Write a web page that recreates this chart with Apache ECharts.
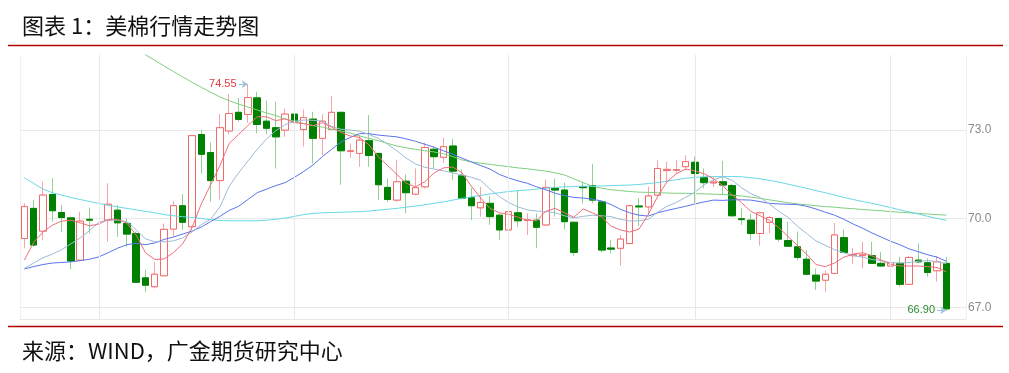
<!DOCTYPE html>
<html><head><meta charset="utf-8">
<script src="https://cdn.jsdelivr.net/npm/echarts@6/dist/echarts.min.js"></script>
<style>html,body{margin:0;padding:0;background:#fff}#c{width:1009px;height:373px}</style>
</head><body><div id="c"></div>
<script>
// ---- data ----
const categories = Array.from({length: 100}, (_, i) => 'T' + (i + 1));
const monthStarts = [8, 29, 52, 72, 93];
const yTickLabels = [67.0, 70.0, 73.0];

const open = [
69.33,70.35,69.58,70.82,70.21,70.03,68.60,69.98,null,69.95,
70.29,69.84,69.50,68.00,67.70,68.07,69.65,70.44,69.73,72.85,
72.24,71.29,72.97,73.60,73.53,74.09,73.30,73.08,73.00,73.54,
73.02,73.37,72.72,73.02,73.60,72.28,72.21,72.64,72.21,71.06,
70.63,71.27,70.83,71.08,72.35,72.08,72.46,71.45,70.71,70.37,
70.52,70.12,69.62,70.20,69.94,69.95,69.79,71.03,70.97,69.88,
71.08,71.12,70.57,69.01,69.00,69.16,70.43,70.40,70.80,71.63,
71.64,71.76,71.91,71.39,71.21,71.25,71.12,70.00,69.95,69.50,
69.88,70.01,69.26,69.05,68.63,68.09,67.92,68.15,69.36,68.75,
68.75,68.75,68.49,68.40,68.49,67.78,68.60,68.51,68.24,68.49];
const close = [
70.41,69.11,70.80,70.27,70.04,68.57,69.92,69.95,null,70.49,
69.86,69.48,67.85,67.75,68.12,69.64,70.44,69.88,72.81,72.18,
71.29,73.08,73.56,73.36,74.10,73.19,73.06,72.77,73.54,73.28,
73.42,72.72,73.30,73.60,72.30,72.30,72.66,72.14,71.15,70.65,
71.25,70.88,71.05,72.41,72.10,72.44,71.61,70.69,70.44,70.55,
70.07,69.62,70.24,69.93,69.96,69.71,71.06,70.97,69.90,68.86,
71.05,70.63,68.94,68.97,69.31,70.44,70.40,70.77,71.70,71.67,
71.66,71.93,71.53,71.22,71.24,71.14,70.10,69.97,69.50,70.20,
70.04,69.31,69.07,68.69,68.12,67.89,68.12,69.45,68.86,68.79,
68.78,68.49,68.40,68.51,67.78,68.69,68.54,68.18,68.54,66.95];
const low = [
69.00,69.05,69.28,69.90,69.56,68.29,68.58,69.50,null,69.22,
69.39,69.05,67.83,67.51,67.64,68.06,69.39,69.62,69.62,71.53,
70.57,70.65,72.85,73.28,73.25,72.89,72.85,71.70,72.77,72.83,
72.44,71.87,72.15,73.00,71.15,72.06,71.76,71.76,70.63,70.57,
70.57,70.18,70.80,71.03,71.70,71.89,71.31,70.65,69.95,70.07,
69.79,69.28,69.39,69.73,69.45,69.00,69.76,70.07,69.64,68.74,
70.52,70.52,68.86,68.83,68.41,69.14,69.75,70.12,70.78,71.20,
71.53,71.65,70.52,71.03,71.08,70.80,70.07,69.79,69.28,69.09,
69.50,69.22,69.05,68.60,68.09,67.59,67.53,68.13,68.83,68.47,
68.32,68.47,68.38,68.35,67.70,67.75,68.49,68.04,67.87,66.90];
const high = [
70.52,70.63,71.25,71.37,70.46,70.07,70.24,70.38,null,71.20,
70.46,70.01,69.56,68.28,68.54,69.84,70.60,70.83,72.83,73.02,
72.58,73.54,74.22,74.09,74.55,74.30,74.00,73.96,73.73,74.00,
73.70,73.62,73.54,74.15,73.62,72.55,72.83,73.51,72.23,71.36,
71.98,71.50,71.70,72.57,72.46,72.74,72.70,71.67,71.05,71.08,
70.77,70.15,71.36,70.97,70.18,70.18,71.33,71.36,71.22,69.90,
71.25,71.85,70.60,69.28,69.45,70.48,70.70,71.08,71.98,71.93,
71.98,72.15,72.10,71.70,71.42,71.96,71.19,70.35,70.18,70.24,
70.10,70.03,69.90,69.56,68.94,68.32,68.26,69.86,69.64,69.00,
69.22,69.22,68.88,69.45,68.71,68.74,69.16,68.66,68.74,68.71];

const ma5 = [
68.60,69.20,69.55,69.78,69.92,69.95,69.86,69.76,69.82,69.98,
69.98,69.85,69.45,68.85,68.62,68.64,68.85,69.15,69.70,70.50,
71.15,71.80,72.55,72.85,73.15,73.45,73.45,73.32,73.38,73.25,
73.22,73.15,73.25,73.10,72.92,72.80,72.75,72.50,72.10,71.80,
71.50,71.20,71.08,71.25,71.55,71.72,71.75,71.55,71.10,70.70,
70.35,70.20,70.15,70.05,69.95,69.93,70.25,70.35,70.20,70.05,
70.33,70.20,70.05,69.75,69.62,69.55,69.65,70.15,70.75,71.25,
71.52,71.68,71.62,71.52,71.35,71.12,70.80,70.55,70.25,70.10,
69.95,69.70,69.40,69.10,68.80,68.45,68.38,68.50,68.70,68.80,
68.85,68.75,68.60,68.45,68.40,68.40,68.40,68.38,68.35,68.20];
const ma10 = [
68.32,68.50,68.68,68.80,68.95,69.15,69.35,69.60,69.88,69.95,
69.95,69.90,69.62,69.32,69.22,69.22,69.25,69.35,69.55,69.80,
69.98,70.40,71.10,71.55,71.95,72.35,72.70,72.98,73.18,73.30,
73.34,73.33,73.30,73.12,73.03,73.00,72.96,72.85,72.72,72.52,
72.30,72.05,71.85,71.74,71.68,71.62,71.55,71.48,71.40,71.30,
71.00,70.75,70.55,70.40,70.30,70.26,70.24,70.20,70.10,70.03,
70.08,70.12,70.10,70.07,69.98,69.92,69.93,69.98,70.22,70.42,
70.55,70.72,70.90,71.15,71.32,71.42,71.30,71.05,70.85,70.72,
70.50,70.25,70.05,69.75,69.50,69.25,69.10,68.95,68.85,68.75,
68.70,68.62,68.58,68.52,68.50,68.52,68.56,68.58,68.55,68.48];
const ma20 = [
68.30,68.38,68.45,68.50,68.52,68.54,68.58,68.63,68.71,68.85,
69.00,69.12,69.17,69.12,69.18,69.30,69.38,69.48,69.58,69.72,
69.90,70.08,70.28,70.42,70.65,70.88,71.00,71.12,71.22,71.40,
71.60,71.82,72.10,72.35,72.60,72.75,72.88,72.88,72.83,72.80,
72.77,72.70,72.62,72.52,72.42,72.30,72.18,72.05,71.92,71.80,
71.68,71.50,71.38,71.28,71.20,71.08,70.98,70.86,70.78,70.72,
70.70,70.66,70.60,70.48,70.32,70.20,70.12,70.09,70.20,70.28,
70.35,70.42,70.50,70.57,70.63,70.62,70.64,70.64,70.63,70.58,
70.52,70.50,70.49,70.48,70.42,70.33,70.22,70.12,69.98,69.82,
69.68,69.52,69.38,69.24,69.12,68.98,68.88,68.78,68.70,68.56];
const ma60 = [
71.38,71.20,71.00,70.88,70.80,70.72,70.65,70.58,70.52,70.45,
70.40,70.35,70.30,70.25,70.20,70.14,70.10,70.07,70.04,70.01,
69.97,69.94,69.93,69.93,69.93,69.93,69.95,69.98,70.02,70.08,
70.14,70.18,70.20,70.21,70.22,70.23,70.24,70.26,70.29,70.32,
70.35,70.39,70.43,70.47,70.52,70.57,70.63,70.69,70.74,70.79,
70.84,70.88,70.92,70.95,70.97,71.00,71.03,71.06,71.08,71.09,
71.10,71.10,71.11,71.12,71.13,71.14,71.16,71.19,71.22,71.27,
71.32,71.37,71.40,71.42,71.43,71.43,71.43,71.42,71.39,71.35,
71.30,71.24,71.17,71.10,71.03,70.95,70.88,70.80,70.72,70.65,
70.58,70.52,70.45,70.38,70.30,70.23,70.16,70.08,70.01,69.95];
const ma120 = [
null,null,null,null,null,null,null,null,null,null,
null,null,75.75,75.55,75.36,75.17,74.98,74.80,74.62,74.45,
74.28,74.12,73.99,73.88,73.78,73.68,73.58,73.49,73.38,73.30,
73.22,73.15,73.10,73.03,72.97,72.90,72.80,72.72,72.64,72.55,
72.46,72.40,72.35,72.30,72.26,72.20,72.10,71.99,71.92,71.88,
71.84,71.80,71.76,71.72,71.69,71.65,71.61,71.55,71.48,71.35,
71.22,71.10,71.03,70.98,70.95,70.92,70.90,70.89,70.88,70.87,
70.86,70.86,70.85,70.84,70.83,70.82,70.80,70.77,70.73,70.69,
70.64,70.59,70.54,70.50,70.47,70.44,70.41,70.39,70.36,70.34,
70.31,70.29,70.27,70.24,70.22,70.20,70.18,70.16,70.14,70.12];

// ---- build ----
const yMin = 66.6, yMax = 75.54;
const wickData = open.map((o, i) => o == null ? '-' : [o, close[i], low[i], high[i]]);
const bodyData = open.map((o, i) => o == null ? '-' : [o, close[i], Math.min(o, close[i]), Math.max(o, close[i])]);
const validHigh = high.filter(v => v != null), validLow = low.filter(v => v != null);
const hiVal = Math.max(...validHigh), hiIdx = high.indexOf(hiVal);
const loVal = Math.min(...validLow), loIdx = low.indexOf(loVal);

const splitColors = Array.from({length: 15}, (_, k) => k === 2 ? '#e8e8e8' : 'rgba(0,0,0,0)');

const chart = echarts.init(document.getElementById('c'), null, {renderer: 'canvas'});
function maSeries(name, data, color) {
  return {name, type: 'line', data, xAxisIndex: 0, yAxisIndex: 0, showSymbol: false, symbol: 'none',
    lineStyle: {color, width: 1}, itemStyle: {color}, z: 4, silent: true, clip: true};
}
chart.setOption({
  animation: false,
  backgroundColor: '#ffffff',
  grid: [
    {left: 19.7, top: 55, width: 931.3, height: 264.2},
    {left: 20, top: 55, width: 946, height: 264.2, show: false}
  ],
  xAxis: [
    {type: 'category', gridIndex: 0, data: categories, boundaryGap: true, show: false},
    {type: 'value', gridIndex: 1, min: 0, max: 1, interval: 1, show: true,
     axisLine: {show: true, onZero: false, lineStyle: {color: '#e8e8e8', width: 1}},
     axisTick: {show: false}, axisLabel: {show: false},
     splitLine: {show: true, lineStyle: {color: '#f1f1f1', width: 1}}}
  ],
  yAxis: [
    {type: 'value', gridIndex: 0, min: yMin, max: yMax, show: false},
    {type: 'value', gridIndex: 1, min: yMin, max: yMax, interval: 0.2, position: 'right',
     axisLine: {show: false}, axisTick: {show: false},
     axisLabel: {margin: 2, color: '#8a8a8a', fontSize: 12, fontFamily: 'Liberation Sans, Arial, sans-serif',
       formatter: v => yTickLabels.some(t => Math.abs(t - v) < 1e-6) ? v.toFixed(1) : ''},
     splitLine: {show: true, lineStyle: {color: splitColors, width: 1}}}
  ],
  graphic: [
    {type: 'text', left: 22, top: 15, style: {text: '图表 1：美棉行情走势图', font: '22px "Noto Sans CJK SC"', fill: '#111'}},
    {type: 'line', shape: {x1: 8, y1: 45.5, x2: 1003, y2: 45.5}, style: {stroke: '#b00000', lineWidth: 1.5}},
    {type: 'line', shape: {x1: 8, y1: 326.5, x2: 1003, y2: 326.5}, style: {stroke: '#b00000', lineWidth: 1.5}},
    {type: 'text', left: 22, top: 340, style: {text: '来源：WIND，广金期货研究中心', font: '22px "Noto Sans CJK SC"', fill: '#111'}}
  ],
  series: [
    {name: 'wick', type: 'candlestick', data: wickData, xAxisIndex: 0, yAxisIndex: 0, barWidth: 7, z: 2, silent: true,
     itemStyle: {color: 'rgba(0,0,0,0)', color0: 'rgba(0,0,0,0)', borderColor: '#f7a4a4', borderColor0: '#93d193', borderWidth: 1},
     markLine: {silent: true, symbol: ['none', 'none'], label: {show: false},
       lineStyle: {color: '#e8e8e8', width: 1, type: 'solid'},
       data: monthStarts.map(i => ({xAxis: categories[i]}))}},
    {name: 'body', type: 'candlestick', data: bodyData, xAxisIndex: 0, yAxisIndex: 0, barWidth: 7, z: 3, silent: true,
     itemStyle: {color: '#ffffff', color0: '#008000', borderColor: '#f26b6b', borderColor0: '#008000', borderWidth: 1},
     markLine: {silent: true, symbol: ['none', 'arrow'], symbolSize: 6,
       lineStyle: {color: '#9cc3e0', width: 1, type: 'solid'},
       data: [
         [{coord: [hiIdx - 1.15, hiVal], label: {show: true, position: 'start', distance: 2, formatter: hiVal.toFixed(2), color: '#e0393e', fontSize: 11, fontFamily: 'Liberation Sans, Arial, sans-serif'}},
          {coord: [hiIdx, hiVal]}],
         [{coord: [loIdx - 1.15, loVal], label: {show: true, position: 'start', distance: 2, formatter: loVal.toFixed(2), color: '#2e8b2e', fontSize: 11, fontFamily: 'Liberation Sans, Arial, sans-serif'}},
          {coord: [loIdx, loVal]}]
       ]}},
    maSeries('MA120', ma120, '#7fcf7f'),
    maSeries('MA60', ma60, '#6ad8e6'),
    maSeries('MA20', ma20, '#5b74ee'),
    maSeries('MA10', ma10, '#9dbbd6'),
    maSeries('MA5', ma5, '#ef6f7c')
  ]
});
</script></body></html>
